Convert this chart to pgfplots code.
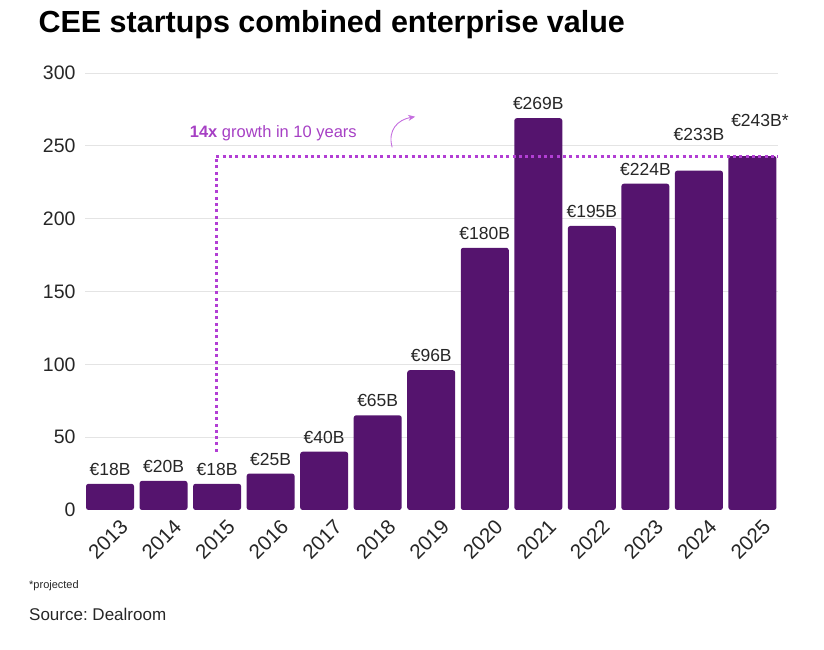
\documentclass[border=0pt]{standalone}
\usepackage{pgfplots}
\pgfplotsset{compat=1.18}
\usetikzlibrary{arrows.meta}
\usepackage{fontspec}
\setmainfont{Liberation Sans}
\frenchspacing

\definecolor{barpurple}{RGB}{85,20,110}
\definecolor{annot}{RGB}{178,62,212}
\definecolor{annottext}{RGB}{166,64,196}
\definecolor{gridgray}{RGB}{228,228,228}

\pgfplotsset{
    eurobar/.style={fill=barpurple, draw=none, rounded corners=2.5pt,
        point meta=explicit symbolic, nodes near coords},
}

\begin{document}
\begin{tikzpicture}
\useasboundingbox (-85pt,-140pt) rectangle (739pt,510pt);
\begin{axis}[
    at={(0pt,0pt)}, anchor=south west,
    scale only axis,
    width=693pt, height=437pt,
    xmin=-0.467, xmax=12.477,
    ymin=0, ymax=300,
    enlargelimits=false,
    ybar, bar width=48pt, bar shift=0pt,
    axis line style={draw=none},
    major tick length=0pt,
    ytick={50,100,...,300},
    extra y ticks={0},
    extra y tick style={grid=none},
    ymajorgrids,
    grid style={gridgray, line width=0.8pt},
    xtick={0,...,12},
    xticklabels={2013,2014,2015,2016,2017,2018,2019,2020,2021,2022,2023,2024,2025},
    /pgf/number format/assume math mode=true,
    tick label style={font=\fontsize{19.5}{22}\selectfont, text=black!85},
    yticklabel style={xshift=-6pt},
    xticklabel style={font=\fontsize{20.5}{22}\selectfont, xshift=9pt, yshift=-8pt, rotate=45, anchor=north east, inner sep=0pt},
    nodes near coords style={font=\fontsize{17.5}{19}\selectfont, text=black!85, inner sep=0pt, anchor=south, yshift=8pt},
    clip=false,
]
\addplot+[eurobar] coordinates {
    (0,18) [€18B]
    (1,20) [€20B]
    (2,18) [€18B]
    (3,25) [€25B]
    (4,40) [€40B]
    (5,65) [€65B]
    (6,96) [€96B]
    (7,180) [€180B]
    (8,269) [€269B]
    (9,195) [€195B]
    (10,224) [€224B]
};
\addplot+[eurobar, nodes near coords style={yshift=22pt}] coordinates {
    (11,233) [€233B]
};
\addplot+[eurobar, nodes near coords style={yshift=21pt, xshift=7.5pt}] coordinates {
    (12,243) [€243B*]
};
% 14x growth guide line
\addplot[sharp plot, no marks, annot, line width=3pt,
    dash pattern=on 3pt off 3.3pt] coordinates {
    (1.98,40) (1.98,243) (12.477,243)
};
\node[text=annottext, font=\fontsize{16.5}{18}\selectfont] at (axis cs:3.05,258.8)
    {\textbf{14x} growth in 10 years};
\draw[annot!75, line width=0.9pt, -{Stealth[length=7pt,width=6pt]}]
    (axis cs:5.27,249) .. controls (axis cs:5.18,261) and (axis cs:5.38,268) .. (axis cs:5.70,270);
\end{axis}
\node[anchor=base west, font=\fontsize{30.5}{34}\selectfont\bfseries] at (-50pt,477pt)
    {CEE startups combined enterprise value};
\node[anchor=west, font=\fontsize{11}{13}\selectfont, text=black!85, inner sep=0pt] at (-56pt,-75.7pt)
    {*projected};
\node[anchor=west, font=\fontsize{17}{20}\selectfont, text=black!85, inner sep=0pt] at (-56pt,-104pt)
    {Source: Dealroom};
\end{tikzpicture}
\end{document}
